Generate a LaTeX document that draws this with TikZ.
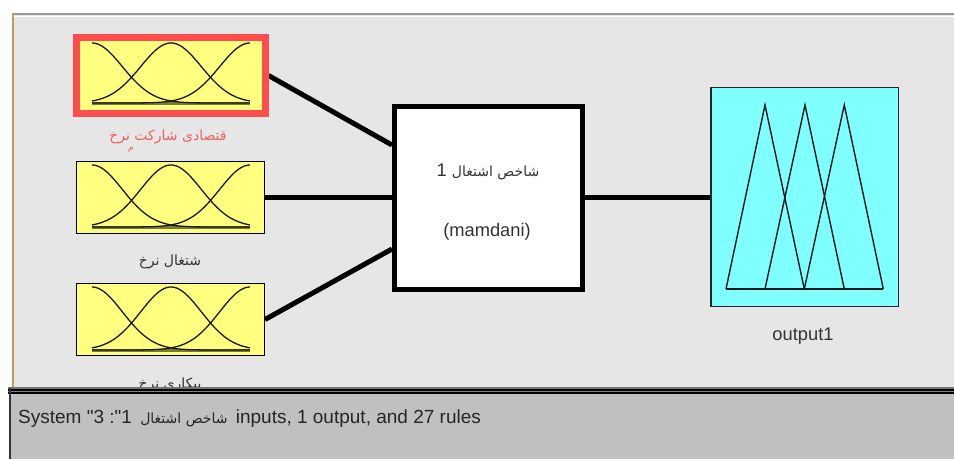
\documentclass[tikz,border=0pt]{standalone}
\usepackage{fontspec}
\setmainfont{Liberation Sans}[Ligatures=TeXOff]
\newfontfamily\arabicfont[Script=Arabic]{DejaVu Sans}
\TeXXeTstate=1
\definecolor{panel}{HTML}{E6E6E6}
\definecolor{statusbg}{HTML}{C0C0C0}
\definecolor{mfyellow}{HTML}{FFFF80}
\definecolor{mfcyan}{HTML}{80FFFF}
\definecolor{selred}{HTML}{FF4D4D}
\definecolor{labred}{HTML}{F06060}
\definecolor{tanline}{HTML}{C09A6B}
\definecolor{textgray}{HTML}{333333}
\definecolor{olivebase}{HTML}{7A7A36}
\pgfdeclarelayer{bg}
\pgfdeclarelayer{connl}
\pgfdeclarelayer{front}
\pgfsetlayers{bg,connl,main,front}
\newcommand\mfgauss[2]{%
  \draw[mfbase] (92,#2) -- (250,#2);
  \foreach \c in {0,0.5,1}{%
    \draw[mf] plot[domain=0:1,samples=80,smooth] ({92+158*\x},{#2-(#2-#1)*exp(-((\x-\c)^2)/0.0737)});}%
}
\begin{document}
\begin{tikzpicture}[x=1pt,y=-1pt,
  inbox/.style={draw=black, line width=1pt, fill=mfyellow, minimum width=188pt, minimum height=72pt, inner sep=0pt},
  selbox/.style={inbox, draw=selred, line width=7pt, minimum width=189pt, minimum height=76pt},
  fisbox/.style={draw=black, line width=5pt, fill=white, minimum width=188pt, minimum height=183pt, inner sep=0pt},
  outbox/.style={draw=black!85, line width=1.5pt, fill=mfcyan, minimum width=187.5pt, minimum height=219pt, inner sep=0pt},
  conn/.style={line width=5pt, black},
  mf/.style={line width=1.3pt, black!90},
  mfbase/.style={line width=3pt, draw=olivebase},
  tri/.style={line width=1.4pt, black!90, line join=miter},
  lab/.style={font=\fontsize{18.3}{21}\selectfont, text=textgray, inner sep=0pt},
  plab/.style={font=\arabicfont\fontsize{14}{16}\selectfont, text=textgray, inner sep=0pt}
]
\useasboundingbox (0,0) rectangle (954,459);
\begin{pgfonlayer}{bg}
  \fill[white] (0,0) rectangle (954,459);
  \fill[panel] (12,14) rectangle (954,388);
  \draw[black!40, line width=2pt] (12,14.3) -- (954,14.3);
  \draw[white, line width=1pt] (13.5,16.5) -- (954,16.5);
  \draw[tanline, line width=1.5pt] (12.75,13.3) -- (12.75,388);
\end{pgfonlayer}

% input membership-function boxes
\node[selbox] (in1) at (170.5,75.5) {};
\mfgauss{43}{103}
\node[inbox] (in2) at (170.5,197) {};
\mfgauss{165}{227}
\node[inbox] (in3) at (170.5,319.5) {};
\mfgauss{287}{350}

% FIS box
\node[fisbox] (fis) at (488.5,198) {};
\node[lab] (fisname) at (488,171.5) {1 {\arabicfont\fontsize{14}{16}\selectfont\beginR شاخص اشتغال\endR}};
\node[lab] (fistype) at (487,231.5) {(mamdani)};

% output box
\node[outbox] (out) at (804.5,197) {};
\draw[tri] (726,289) -- (765,105) -- (804.3,289);
\draw[tri] (765,289) -- (805,105) -- (844.3,289);
\draw[tri] (804.3,289) -- (844.3,105) -- (883.3,289);
\draw[tri] (726,289) -- (883.3,289);

% labels
\node[plab, text=labred] (lab1) at (168,137) {\beginR قتصادی شارکت نرخ\endR};
\node[plab, text=labred, font=\arabicfont\fontsize{9}{10}\selectfont] (lab1m) at (131,150) {م};
\node[plab] (lab2) at (170,262) {\beginR شتغال نرخ\endR};
\node[plab] (lab3) at (170,385) {\beginR بیکاری نرخ\endR};
\node[lab] (outlab) at (803,336.5) {output1};

% connectors
\begin{pgfonlayer}{connl}
  \draw[conn] (in1.east) -- ([yshift=53pt]fis.west);
  \draw[conn] (in2.east) -- (fis.west |- in2.east);
  \draw[conn] (in3.east) -- ([yshift=-51pt]fis.west);
  \draw[conn] (fis.east |- out.west) -- (out.west);
\end{pgfonlayer}

% status bar
\begin{pgfonlayer}{front}
  \fill[statusbg] (9,388) rectangle (954,459);
  \draw[black!55, line width=1.2pt] (8,388) -- (954,388);
  \draw[black, line width=1.8pt] (8,389.8) -- (954,389.8);
  \draw[black!50, line width=1pt] (8,391.6) -- (954,391.6);
  \draw[black, line width=1.8pt] (8,393) -- (954,393);
  \draw[black!25, line width=2pt] (9,395) -- (954,395);
  \draw[black!80, line width=2pt] (10,388) -- (10,459);
  \node[lab, anchor=west, text=black!85, font=\fontsize{19}{22}\selectfont] (status) at (18,419) {System "3 :"1\hspace{3pt} {\arabicfont\fontsize{14}{16}\selectfont\beginR شاخص اشتغال\endR}\hspace{3pt} inputs, 1 output, and 27 rules};
\end{pgfonlayer}
\end{tikzpicture}
\end{document}
